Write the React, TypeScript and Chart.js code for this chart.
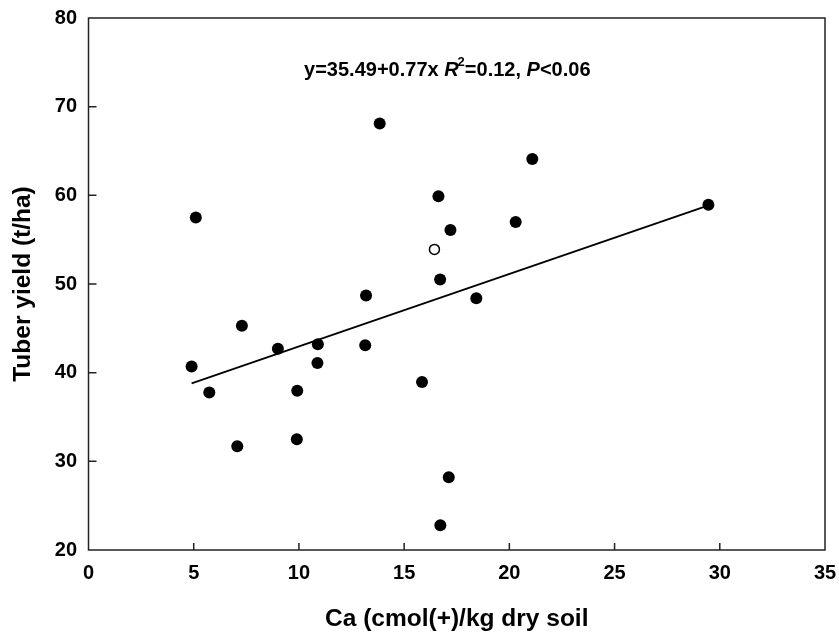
import React, { useEffect, useRef } from "react";
import { Chart, registerables } from "chart.js";

Chart.register(...registerables);

// Filled points: Ca (cmol(+)/kg) vs tuber yield (t/ha)
const caFilled = [5.1, 13.84, 16.63, 17.2, 16.71, 13.19, 18.43, 21.09, 20.3, 29.46, 7.29, 9.0, 10.9, 13.15, 4.9, 10.88, 5.74, 9.92, 15.85, 7.07, 9.9, 17.12, 16.72];
const yieldFilled = [57.5, 68.1, 59.9, 56.1, 50.5, 48.7, 48.4, 64.1, 57.0, 58.95, 45.3, 42.7, 43.2, 43.1, 40.7, 41.1, 37.75, 37.95, 38.95, 31.7, 32.5, 28.2, 22.8];

// Open point (outlier)
const caOpen = [16.44];
const yieldOpen = [53.9];

// Regression line end points
const fitCa = [4.9, 29.5];
const fitYield = [38.8, 58.9];

const xTitle = "Ca (cmol(+)/kg dry soil";
const yTitle = "Tuber yield (t/ha)";

// Annotation text pieces: [text, style]
const annotationParts: [string, string][] = [
  ["y=35.49+0.77x ", "normal"],
  ["R", "italic"],
  ["2", "sup"],
  ["=0.12, ", "normal"],
  ["P", "italic"],
  ["<0.06", "normal"],
];
const annotationAnchor = { x: 17.05, y: 73.46 };

const FONT = "'Liberation Sans', Arial, Helvetica, sans-serif";

const framePlugin = {
  id: "frameAndTicks",
  afterDatasetsDraw(chart: any) {
    const { ctx, chartArea, scales } = chart;
    const { left, right, top, bottom } = chartArea;
    ctx.save();
    ctx.strokeStyle = "#222";
    ctx.lineWidth = 1.5;
    ctx.strokeRect(left, top, right - left, bottom - top);
    ctx.beginPath();
    scales.x.ticks.forEach((t: any) => {
      const px = scales.x.getPixelForValue(t.value);
      if (px <= left + 1 || px >= right - 1) return;
      ctx.moveTo(px, bottom);
      ctx.lineTo(px, bottom - 7);
    });
    scales.y.ticks.forEach((t: any) => {
      const py = scales.y.getPixelForValue(t.value);
      if (py <= top + 1 || py >= bottom - 1) return;
      ctx.moveTo(left, py);
      ctx.lineTo(left + 8, py);
    });
    ctx.stroke();

    // annotation
    const cx = scales.x.getPixelForValue(annotationAnchor.x);
    const by = scales.y.getPixelForValue(annotationAnchor.y);
    const fontFor = (style: string) =>
      style === "italic"
        ? `italic bold 20px ${FONT}`
        : style === "sup"
        ? `bold 13px ${FONT}`
        : `bold 20px ${FONT}`;
    let total = 0;
    const widths = annotationParts.map(([txt, style]) => {
      ctx.font = fontFor(style);
      const w = ctx.measureText(txt).width + (style === "sup" ? -1 : 0);
      total += w;
      return w;
    });
    let x = cx - total / 2;
    ctx.fillStyle = "#000";
    ctx.textBaseline = "alphabetic";
    ctx.textAlign = "left";
    annotationParts.forEach(([txt, style], i) => {
      ctx.font = fontFor(style);
      if (style === "sup") {
        ctx.fillText(txt, x - 1, by - 10);
      } else {
        ctx.fillText(txt, x, by);
      }
      x += widths[i];
    });
    ctx.restore();
  },
};

export default function App() {
  const ref = useRef<HTMLCanvasElement>(null);
  useEffect(() => {
    if (!ref.current) return;
    const chart = new Chart(ref.current, {
      type: "scatter",
      data: {
        datasets: [
          {
            type: "line",
            data: fitCa.map((x, i) => ({ x, y: fitYield[i] })),
            borderColor: "#000",
            borderWidth: 1.8,
            pointRadius: 0,
            fill: false,
            order: 3,
          } as any,
          {
            data: caFilled.map((x, i) => ({ x, y: yieldFilled[i] })),
            backgroundColor: "#000",
            borderColor: "#000",
            borderWidth: 0,
            pointRadius: 6,
            order: 1,
          },
          {
            data: caOpen.map((x, i) => ({ x, y: yieldOpen[i] })),
            backgroundColor: "#fff",
            borderColor: "#000",
            borderWidth: 1.5,
            pointRadius: 5,
            order: 2,
          },
        ],
      },
      options: {
        animation: false,
        responsive: false,
        events: [],
        layout: { padding: { top: 18, right: 14, left: 0, bottom: 0 } },
        plugins: { legend: { display: false }, tooltip: { enabled: false } },
        scales: {
          x: {
            type: "linear",
            position: "bottom",
            min: 0,
            max: 35,
            grid: { display: false, drawTicks: false },
            border: { display: false },
            ticks: {
              stepSize: 5,
              padding: 11.5,
              color: "#000",
              font: { family: FONT, size: 20, weight: "bold" },
            },
            title: {
              display: true,
              text: xTitle,
              color: "#000",
              padding: { top: 0, bottom: -1.5 },
              font: { family: FONT, size: 24.5, weight: "bold" },
            },
            afterFit: (s: any) => {
              s.height = 82;
              s.paddingLeft = 0;
              s.paddingRight = 0;
            },
          },
          y: {
            type: "linear",
            min: 20,
            max: 80,
            grid: { display: false, drawTicks: false },
            border: { display: false },
            ticks: {
              stepSize: 10,
              padding: 11.5,
              color: "#000",
              font: { family: FONT, size: 20, weight: "bold" },
            },
            title: {
              display: true,
              text: yTitle,
              color: "#000",
              padding: { top: 9, bottom: 0 },
              font: { family: FONT, size: 24.5, weight: "bold" },
            },
            afterFit: (s: any) => {
              s.width = 88.5;
              s.paddingTop = 0;
              s.paddingBottom = 0;
            },
          },
        },
      },
      plugins: [framePlugin],
    });
    return () => chart.destroy();
  }, []);
  return (
    <div style={{ position: "absolute", left: 0, top: 0, width: 839, height: 632, background: "#fff" }}>
      <canvas ref={ref} width={839} height={632} style={{ display: "block" }} />
    </div>
  );
}
